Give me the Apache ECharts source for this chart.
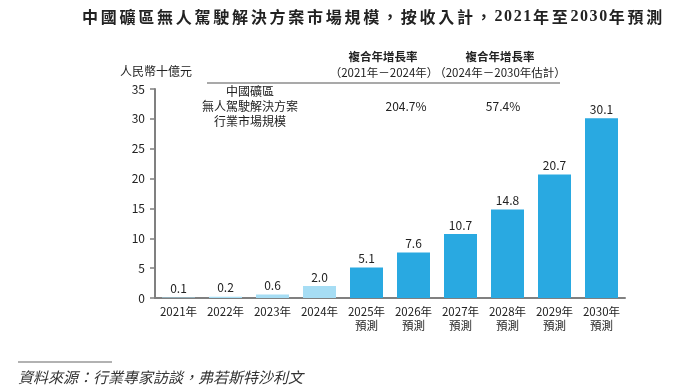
<!DOCTYPE html>
<html><head><meta charset="utf-8">
<script src="https://cdn.jsdelivr.net/npm/echarts@6/dist/echarts.min.js"></script>
<style>html,body{margin:0;padding:0;background:#fff}#c{width:678px;height:391px}</style>
</head><body><div id="c"></div>
<script>
const categories = ['2021年','2022年','2023年','2024年','2025年\n預測','2026年\n預測','2027年\n預測','2028年\n預測','2029年\n預測','2030年\n預測'];
const values = [0.1, 0.2, 0.6, 2.0, 5.1, 7.6, 10.7, 14.8, 20.7, 30.1];
const historicColor = '#a6ddf4';
const forecastColor = '#29a9e1';
const cagrValues = ['204.7%', '57.4%'];
const titleText = '中國礦區無人駕駛解決方案市場規模，按收入計，2021年至2030年預測';
const font = '"Noto Sans CJK TC", "Noto Sans", sans-serif';

// title laid out character by character to reproduce the wide letter spacing
const titleChars = [];
let tx = 82;
for (const ch of titleText) {
  const isDigit = /[0-9]/.test(ch);
  titleChars.push({type: 'text', x: tx, y: 9, style: {text: ch,
    font: 'bold 16px ' + (isDigit ? '"Liberation Serif", serif' : font), fill: '#222'}});
  tx += isDigit ? 9.6 : 18.75;
}

const chart = echarts.init(document.getElementById('c'));
chart.setOption({
  animation: false,
  grid: {left: 155, right: 53, top: 89, bottom: 93},
  xAxis: {
    type: 'category', data: categories,
    axisLine: {lineStyle: {color: '#808080', width: 2}},
    axisTick: {show: false},
    axisLabel: {color: '#222', fontSize: 11.5, fontFamily: font, lineHeight: 14, margin: 7, interval: 0}
  },
  yAxis: {
    type: 'value', min: 0, max: 35, interval: 5,
    axisLine: {show: true, lineStyle: {color: '#808080', width: 2}},
    axisTick: {show: true, inside: false, length: 5, lineStyle: {color: '#808080', width: 1.5}},
    splitLine: {show: false},
    axisLabel: {color: '#222', fontSize: 12, fontFamily: font, margin: 10}
  },
  series: [{
    type: 'bar', barWidth: 33,
    data: values.map((v, i) => ({value: v, itemStyle: {color: i < 4 ? historicColor : forecastColor}})),
    label: {show: true, position: 'top', color: '#222', fontSize: 12, fontFamily: font, distance: 3,
      formatter: p => p.value.toFixed(1)}
  }],
  graphic: [
    {type: 'group', children: titleChars},
    {type: 'text', x: 120, y: 65, style: {text: '人民幣十億元', font: '12px ' + font, fill: '#222'}},
    {type: 'line', shape: {x1: 207, y1: 83, x2: 560, y2: 83}, style: {stroke: '#555', lineWidth: 1.2}},
    {type: 'text', x: 383, y: 51, style: {text: '複合年增長率', font: 'bold 11.5px ' + font, fill: '#222', align: 'center'}},
    {type: 'text', x: 384, y: 67, style: {text: '（2021年－2024年）', font: '11.5px ' + font, fill: '#222', align: 'center'}},
    {type: 'text', x: 500, y: 51, style: {text: '複合年增長率', font: 'bold 11.5px ' + font, fill: '#222', align: 'center'}},
    {type: 'text', x: 500, y: 67, style: {text: '（2024年－2030年估計）', font: '11.5px ' + font, fill: '#222', align: 'center'}},
    {type: 'text', x: 250, y: 84, style: {text: '中國礦區\n無人駕駛解決方案\n行業市場規模', font: '12px ' + font, fill: '#222', align: 'center', lineHeight: 15}},
    {type: 'text', x: 406, y: 100, style: {text: cagrValues[0], font: '12px ' + font, fill: '#222', align: 'center'}},
    {type: 'text', x: 503, y: 100, style: {text: cagrValues[1], font: '12px ' + font, fill: '#222', align: 'center'}},
    {type: 'line', shape: {x1: 18, y1: 362, x2: 112, y2: 362}, style: {stroke: '#666', lineWidth: 1.2}},
    {type: 'text', x: 18, y: 370, style: {text: '資料來源：行業專家訪談，弗若斯特沙利文', font: 'italic 15px ' + font, fill: '#333'}}
  ]
});
</script></body></html>
